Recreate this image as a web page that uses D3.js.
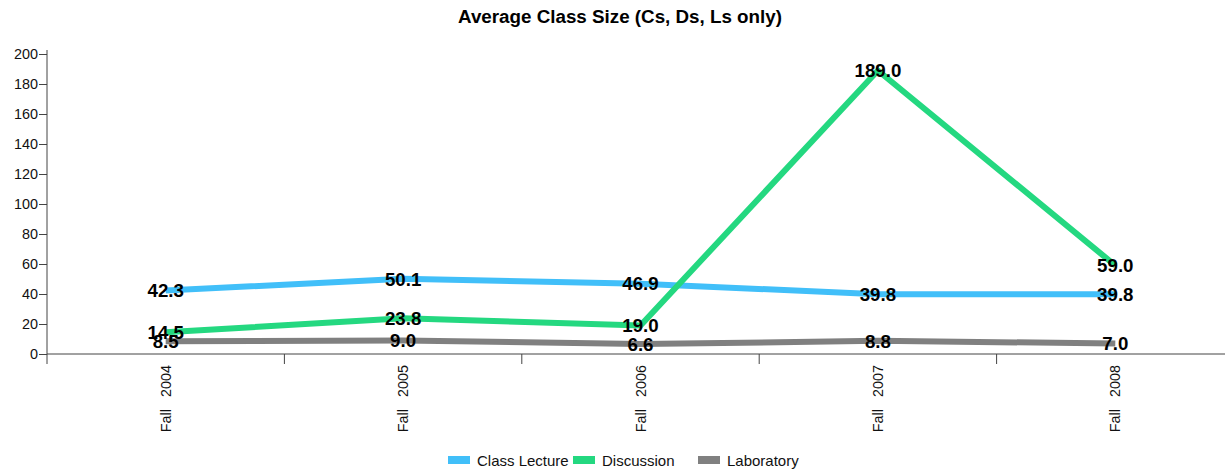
<!DOCTYPE html>
<html><head><meta charset="utf-8">
<script src="https://cdn.jsdelivr.net/npm/d3@7/dist/d3.min.js"></script>
<style>body{margin:0;background:#fff;font-family:"Liberation Sans",Arial,sans-serif}</style>
</head><body><svg id="c" width="1225" height="472"></svg>
<script>
const categories = ["Fall   2004","Fall   2005","Fall   2006","Fall   2007","Fall   2008"];
const seriesNames = ["Class Lecture","Discussion","Laboratory"];
const lectureValues = [42.3, 50.1, 46.9, 39.8, 39.8];
const discussionValues = [14.5, 23.8, 19.0, 189.0, 59.0];
const labValues = [8.5, 9.0, 6.6, 8.8, 7.0];
const yTicks = [0,20,40,60,80,100,120,140,160,180,200];
const colors = ["#41bff9","#24d880","#808080"];

(function(){
const FF = "Liberation Sans, Arial, sans-serif";
const series = [lectureValues, discussionValues, labValues];
const svg = d3.select("#c");
const mLeft = 47, mBottom = 354, mTop = 54;
const x = d3.scaleBand().domain(categories).range([mLeft, mLeft + 5*237.4]);
const y = d3.scaleLinear().domain([0,200]).range([mBottom, mTop]);

svg.append("text").attr("x",620).attr("y",23).attr("text-anchor","middle").attr("font-family",FF)
  .attr("font-weight","bold").attr("font-size","18.8px").text("Average Class Size (Cs, Ds, Ls only)");

const ya = svg.append("g").attr("transform",`translate(${mLeft},0)`)
  .call(d3.axisLeft(y).tickValues(yTicks).tickSize(8).tickSizeOuter(0));
ya.select(".domain").attr("stroke","#444").attr("d",`M0,${mTop-4}V${mBottom+10}`);
ya.selectAll(".tick line").attr("stroke","#444");
ya.selectAll(".tick text").attr("font-size","14.4px").attr("font-family",FF).attr("fill","#111").attr("x",-9);

const xa = svg.append("g").attr("transform",`translate(0,${mBottom})`)
  .call(d3.axisBottom(x).tickSize(0).tickSizeOuter(0));
xa.select(".domain").attr("stroke","#444").attr("d",`M${mLeft},0H1225`);
xa.selectAll(".tick text").attr("font-size","14.4px").attr("font-family",FF).attr("fill","#111")
  .attr("transform","rotate(-90)").attr("text-anchor","end").attr("x",-11).attr("y",0).attr("dy","0.35em")
  .style("white-space","pre");
categories.slice(1).forEach(c=>{
  const bx = x(c);
  svg.append("line").attr("x1",bx).attr("x2",bx).attr("y1",mBottom).attr("y2",mBottom+10).attr("stroke","#444");
});

const line = d3.line().x((d,i)=>x(categories[i])+x.bandwidth()/2).y(d=>y(d));
series.forEach((s,k)=>{
  svg.append("path").datum(s).attr("d",line).attr("fill","none").attr("stroke",colors[k])
    .attr("stroke-width",6).attr("stroke-linejoin","miter");
});
series.forEach((s,k)=>{
  svg.append("g").selectAll("text").data(s).join("text")
    .attr("x",(d,i)=>x(categories[i])+x.bandwidth()/2).attr("y",d=>y(d))
    .attr("dy","0.36em").attr("text-anchor","middle").attr("font-weight","bold").attr("font-size","18.7px")
    .attr("font-family",FF).attr("fill","#000").text(d=>d.toFixed(1));
});

const lg = svg.append("g");
seriesNames.forEach((n,i)=>{
  const gx = 448 + i*125;
  lg.append("rect").attr("x",gx).attr("y",456).attr("width",22).attr("height",8).attr("fill",colors[i]);
  lg.append("text").attr("x",gx+29).attr("y",466).attr("font-size","15px").attr("font-family",FF).attr("fill","#111").text(n);
});
})();
</script></body></html>
